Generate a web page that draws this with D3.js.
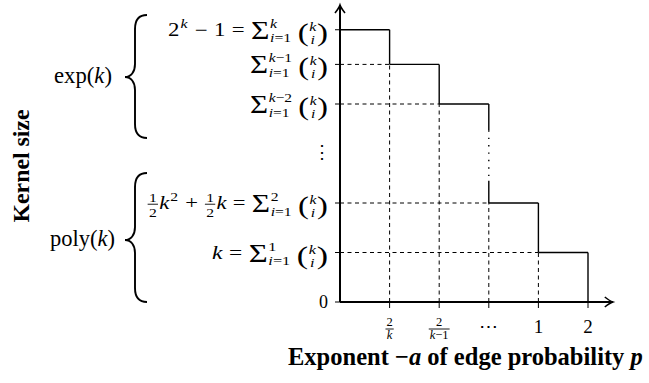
<!DOCTYPE html>
<html><head><meta charset="utf-8">
<script src="https://cdn.jsdelivr.net/npm/d3@7"></script>
<style>
html,body{margin:0;padding:0;background:#fff;}
svg{display:block;}
text{font-family:"Liberation Serif","Times New Roman",serif;fill:#000;}
</style></head>
<body>
<svg id="c" width="649" height="383" font-family="Liberation Serif, serif"></svg>
<script>
// ---- data ----
const stepStart = [0, 1, 2, 3, 4];
const stepEnd   = [1, 2, 3, 4, 5];
const stepLevel = [5.5, 4.8, 4, 2, 1];
const levelVals = [0, 1, 2, 4, 4.8, 5.5];
const gapLevels = [3.47, 2.45];          // dotted part of the drop at x = 3
const xTickVals = [1, 2, 3, 4, 5];
const xTickLabels = [
  {frac: ["2", "k"]},
  {frac: ["2", "k−1"]},
  {txt: "⋯"},
  {txt: "1"},
  {txt: "2"}
];
const yLabels = [
  {lvl: 5.5, parts: [["t","2"],["sup","k"],["op","−"],["t","1"],["op","="],["sum","k"],["binom"]]},
  {lvl: 4.8, parts: [["sum","k−1"],["binom"]]},
  {lvl: 4,   parts: [["sum","k−2"],["binom"]]},
  {lvl: 2,   parts: [["frac"],["ti","k"],["sup","2"],["op","+"],["frac"],["ti","k"],["op","="],["sum","2"],["binom"]]},
  {lvl: 1,   parts: [["ti","k"],["op","="],["sum","1"],["binom"]]},
  {lvl: 0,   parts: [["t","0"]]}
];
const groupLabels = ["exp(k)", "poly(k)"];
const yTitle = "Kernel size";

// ---- scales ----
const svg = d3.select("#c");
const x = d3.scaleLinear().domain([0, 5.5]).range([340, 612.8]);
const y = d3.scaleLinear().domain([0, 6]).range([302, 5]);
const FS = 18;
const FAM = "Liberation Serif, serif";

// axes
const ax = svg.append("g").attr("stroke", "#000").attr("fill", "none");
ax.append("line").attr("x1", x(0)).attr("y1", y(0)).attr("x2", x(0)).attr("y2", y(6)).attr("stroke-width", 2);
ax.append("line").attr("x1", x(0)).attr("y1", y(0)).attr("x2", x(5.5)).attr("y2", y(0)).attr("stroke-width", 2);
ax.append("path").attr("stroke-width", 1.6)
  .attr("d", `M${x(0)-5},${y(6)+8} Q${x(0)-1},${y(6)+3} ${x(0)},${y(6)} Q${x(0)+1},${y(6)+3} ${x(0)+5},${y(6)+8}`);
ax.append("path").attr("stroke-width", 1.6)
  .attr("d", `M${x(5.5)-8},${y(0)-5} Q${x(5.5)-3},${y(0)-1} ${x(5.5)},${y(0)} Q${x(5.5)-3},${y(0)+1} ${x(5.5)-8},${y(0)+5}`);

ax.selectAll(".yt").data(levelVals).join("line")
  .attr("x1", x(0) - 5).attr("x2", x(0)).attr("y1", d => y(d)).attr("y2", d => y(d)).attr("stroke-width", 1);
ax.selectAll(".xt").data(xTickVals).join("line")
  .attr("x1", d => x(d)).attr("x2", d => x(d)).attr("y1", y(0)).attr("y2", y(0) + 6).attr("stroke-width", 1);

// dashed guides
const dash = svg.append("g").attr("stroke", "#000").attr("stroke-width", 1).attr("stroke-dasharray", "4,3.5").attr("fill", "none");
d3.range(1, 5).forEach(i => {
  dash.append("line").attr("x1", x(0)).attr("x2", x(stepStart[i])).attr("y1", y(stepLevel[i])).attr("y2", y(stepLevel[i]));
  dash.append("line").attr("x1", x(stepEnd[i-1])).attr("x2", x(stepEnd[i-1])).attr("y1", y(0)).attr("y2", y(stepLevel[i]));
});

// step function
const st = svg.append("g").attr("stroke", "#000").attr("stroke-width", 1.4).attr("fill", "none");
stepStart.forEach((s, i) => {
  st.append("line").attr("x1", x(s)).attr("x2", x(stepEnd[i])).attr("y1", y(stepLevel[i])).attr("y2", y(stepLevel[i]));
  const next = i < stepLevel.length - 1 ? stepLevel[i+1] : 0;
  const xe = x(stepEnd[i]);
  if (stepEnd[i] === 3) {
    st.append("line").attr("x1", xe).attr("x2", xe).attr("y1", y(stepLevel[i])).attr("y2", y(gapLevels[0]));
    st.append("line").attr("x1", xe).attr("x2", xe).attr("y1", y(gapLevels[0])).attr("y2", y(gapLevels[1]))
      .attr("stroke-dasharray", "1.4,6");
    st.append("line").attr("x1", xe).attr("x2", xe).attr("y1", y(gapLevels[1])).attr("y2", y(next));
  } else {
    st.append("line").attr("x1", xe).attr("x2", xe).attr("y1", y(stepLevel[i])).attr("y2", y(next));
  }
});

// ---- math layout helper ----
function txt(g, xx, yy, s, fs, italic, anchor) {
  const t = g.append("text").attr("x", xx).attr("y", yy).attr("font-family", FAM).style("font-size", fs + "px");
  if (anchor) t.attr("text-anchor", anchor);
  const re = /([a-z])|([^a-z]+)/g; let m;
  while ((m = re.exec(s)) !== null) {
    t.append("tspan").style("font-style", (m[1] || italic) ? "italic" : "normal").text(m[0]);
  }
  return t;
}
function w(t) { return t.node().getComputedTextLength(); }

function buildMath(g, parts) {
  let cx = 0;
  const sfs = 12.5;
  parts.forEach(p => {
    const k = p[0];
    if (k === "t" || k === "ti") {
      const t = g.append("text").attr("x", cx).attr("y", 0).attr("font-family", FAM).style("font-size", FS + "px")
        .style("font-style", k === "ti" ? "italic" : "normal").text(p[1]);
      cx += w(t);
    } else if (k === "op") {
      cx += 5;
      const t = g.append("text").attr("x", cx).attr("y", 0).attr("font-family", FAM).style("font-size", FS + "px").text(p[1]);
      cx += w(t) + 5;
    } else if (k === "sup") {
      const t = txt(g, cx + 0.8, -8, p[1], sfs);
      cx += w(t) + 1.5;
    } else if (k === "sum") {
      const s = g.append("text").attr("x", cx).attr("y", 3).attr("font-family", FAM).style("font-size", "25px").text("Σ");
      cx += w(s) + 0.5;
      const a = txt(g, cx, -8, p[1], sfs);
      const b = txt(g, cx, 6.5, "i=1", sfs);
      cx += Math.max(w(a), w(b)) + 5;
    } else if (k === "binom") {
      const l = g.append("text").attr("x", cx).attr("y", 5).attr("font-family", FAM).style("font-size", "26px").text("(");
      const lw = w(l);
      const top = txt(g, 0, -5, "k", sfs, true, "middle");
      const bot = txt(g, 0, 8, "i", sfs, true, "middle");
      const iw = Math.max(w(top), w(bot)) + 1;
      top.attr("x", cx + lw + iw / 2);
      bot.attr("x", cx + lw + iw / 2);
      const r = g.append("text").attr("x", cx + lw + iw).attr("y", 5).attr("font-family", FAM).style("font-size", "26px").text(")");
      cx += lw + iw + w(r);
    } else if (k === "frac") {
      const a = txt(g, 0, -7, "1", sfs, false, "middle");
      const b = txt(g, 0, 8, "2", sfs, false, "middle");
      const fw = Math.max(w(a), w(b)) + 2;
      a.attr("x", cx + fw / 2 + 0.5); b.attr("x", cx + fw / 2 + 0.5);
      g.append("line").attr("x1", cx + 0.5).attr("x2", cx + fw + 0.5).attr("y1", -4.8).attr("y2", -4.8)
        .attr("stroke", "#000").attr("stroke-width", 0.9);
      cx += fw + 1.5;
    }
  });
  return cx;
}

// y labels, right aligned, fitted to the reference widths
const yLabelWidths = [160, 78, 78, 181, 116, 0];
yLabels.forEach((L, i) => {
  const g = svg.append("g");
  const inner = g.append("g");
  const width = buildMath(inner, L.parts);
  const sx = yLabelWidths[i] ? yLabelWidths[i] / width : 1;
  inner.attr("transform", `scale(${sx},1)`);
  g.attr("transform", `translate(${328 - width * sx},${y(L.lvl) + 6})`);
});
svg.append("text").attr("x", 322).attr("y", y(3) + 4).attr("text-anchor", "middle")
  .attr("font-family", FAM).style("font-size", FS + "px").text("⋮");

// x tick labels
xTickLabels.forEach((L, i) => {
  const cx = x(xTickVals[i]);
  if (L.frac) {
    const a = txt(svg, cx, 325.5, L.frac[0], 12.5, false, "middle");
    const b = txt(svg, cx, 339, L.frac[1], 12.5, false, "middle");
    const fw = Math.max(w(a), w(b)) + 2;
    svg.append("line").attr("x1", cx - fw / 2).attr("x2", cx + fw / 2).attr("y1", 329).attr("y2", 329)
      .attr("stroke", "#000").attr("stroke-width", 0.9);
  } else {
    svg.append("text").attr("x", cx).attr("y", 333).attr("text-anchor", "middle")
      .attr("font-family", FAM).style("font-size", "19px").text(L.txt);
  }
});

// braces
function brace(x0, x1, y0, ym, y1) {
  const s = x1 - 12;
  return `M${x1},${y0} C${x1-7},${y0} ${s},${y0+3} ${s},${y0+14} L${s},${ym-13} C${s},${ym-5} ${s-4},${ym} ${x0},${ym}` +
         ` C${s-4},${ym} ${s},${ym+5} ${s},${ym+13} L${s},${y1-14} C${s},${y1-3} ${x1-7},${y1} ${x1},${y1}`;
}
svg.append("path").attr("d", brace(125, 147, 15, 77, 138)).attr("fill", "none").attr("stroke", "#000").attr("stroke-width", 1.9);
svg.append("path").attr("d", brace(125, 147, 173, 240, 302)).attr("fill", "none").attr("stroke", "#000").attr("stroke-width", 1.9);

function fitText(t, target) {
  const cw = w(t); const fs = parseFloat(t.style("font-size"));
  t.style("font-size", (fs * target / cw) + "px");
}
function groupLabel(s, xl, xr, yc) {
  const t = svg.append("text").attr("y", yc + 6).attr("font-family", FAM).style("font-size", FS + "px");
  const m = s.match(/^(\w+)\((\w)\)$/);
  t.append("tspan").text(m[1] + "(");
  t.append("tspan").style("font-style", "italic").text(m[2]);
  t.append("tspan").text(")");
  fitText(t, xr - xl);
  t.attr("x", xl);
}
groupLabel(groupLabels[0], 54, 112, 77);
groupLabel(groupLabels[1], 50, 115, 240);

// axis titles
const yt = svg.append("text").attr("transform", "translate(29,166) rotate(-90)").attr("text-anchor", "middle")
  .attr("font-family", FAM).style("font-size", "18px").style("font-weight", "bold").text(yTitle);
fitText(yt, 113);

const xt = svg.append("text").attr("y", 365).attr("font-family", FAM).style("font-size", "18px").style("font-weight", "bold");
xt.append("tspan").text("Exponent −");
xt.append("tspan").style("font-style", "italic").text("a");
xt.append("tspan").text("\u00A0of edge probability\u00A0");
xt.append("tspan").style("font-style", "italic").text("p");
fitText(xt, 355);
xt.attr("x", 288);
</script>
</body></html>
